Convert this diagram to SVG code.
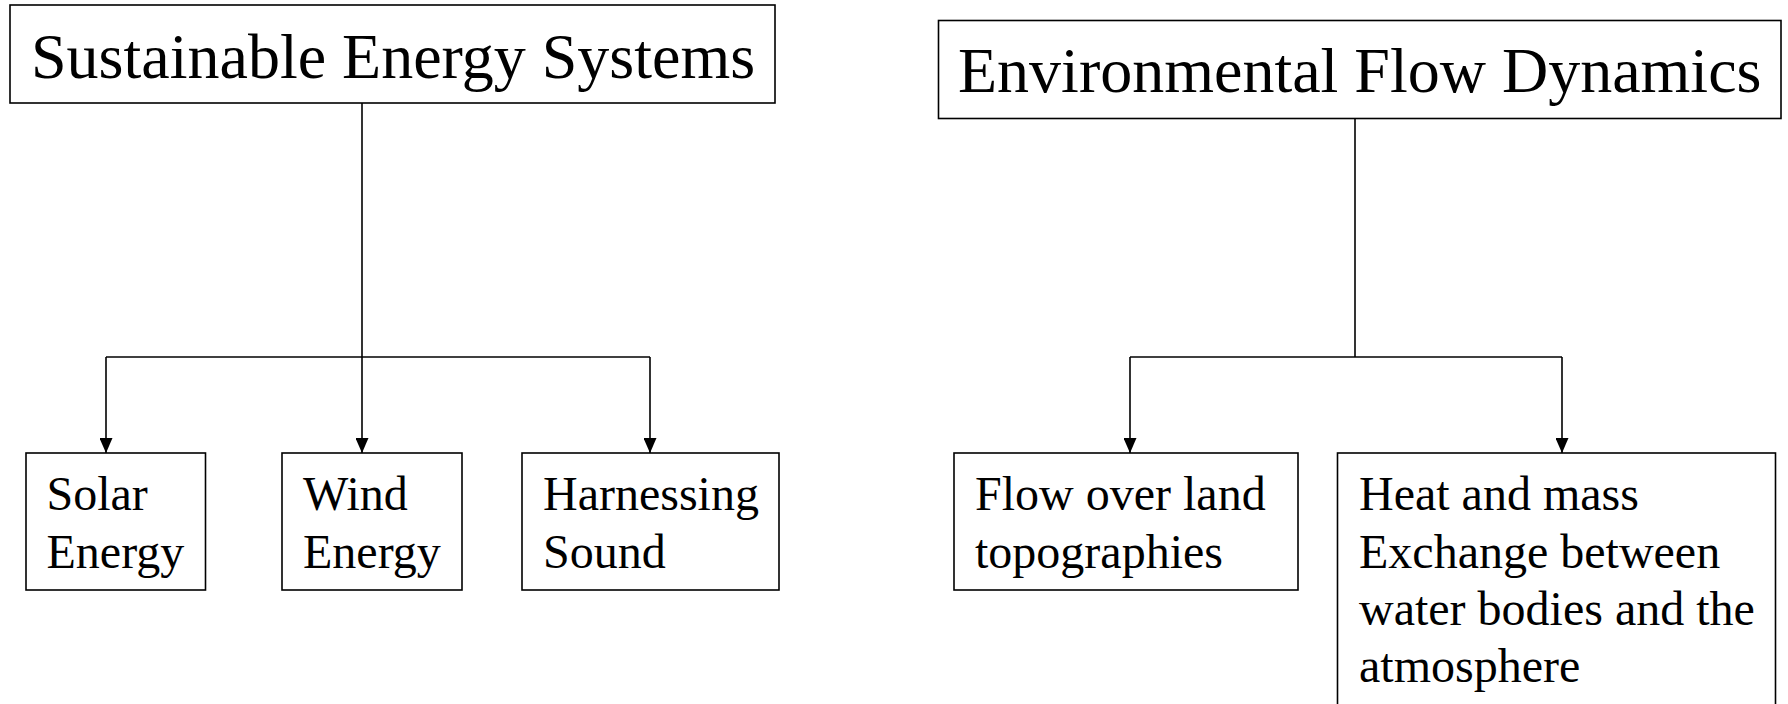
<svg xmlns="http://www.w3.org/2000/svg" width="1788" height="704" viewBox="0 0 1788 704">
<style>
.box{fill:#fff;stroke:#000;stroke-width:1.6}
.title{font-family:"Liberation Serif","Times New Roman",serif;font-size:64px;fill:#000}
.lbl{font-family:"Liberation Serif","Times New Roman",serif;font-size:48px;fill:#000}
.ln{fill:none;stroke:#000;stroke-width:1.6}
.arr{fill:none;stroke:#000;stroke-width:1.6;marker-end:url(#ah)}
</style>
<defs>
<marker id="ah" viewBox="0 0 15 13" markerWidth="15" markerHeight="13" refX="15" refY="6.5" orient="auto" markerUnits="userSpaceOnUse">
<path d="M0,0 L15,6.5 L0,13 z" fill="#000"/>
</marker>
</defs>
<rect width="1788" height="704" fill="#fff"/>
<g id="connectors">
<path class="ln" d="M362,103 V357"/>
<path class="ln" d="M106,357 H650"/>
<path class="arr" d="M106,357 V453"/>
<path class="arr" d="M362,357 V453"/>
<path class="arr" d="M650,357 V453"/>
<path class="ln" d="M1355,118.6 V357"/>
<path class="ln" d="M1130,357 H1562"/>
<path class="arr" d="M1130,357 V453"/>
<path class="arr" d="M1562,357 V453"/>
</g>
<g id="ses">
<rect class="box" x="10" y="5" width="765" height="98"/>
<text class="title" x="31" y="77.5">Sustainable Energy Systems</text>
</g>
<g id="efd">
<rect class="box" x="938.5" y="20.5" width="842.5" height="98"/>
<text class="title" x="958" y="92">Environmental Flow Dynamics</text>
</g>
<g id="solar">
<rect class="box" x="26" y="453" width="179.5" height="137"/>
<text class="lbl" x="46.5" y="510">Solar</text>
<text class="lbl" x="46.5" y="567.5">Energy</text>
</g>
<g id="wind">
<rect class="box" x="282" y="453" width="180" height="137"/>
<text class="lbl" x="303" y="510">Wind</text>
<text class="lbl" x="303" y="567.5">Energy</text>
</g>
<g id="sound">
<rect class="box" x="522" y="453" width="257" height="137"/>
<text class="lbl" x="543" y="510">Harnessing</text>
<text class="lbl" x="543" y="567.5">Sound</text>
</g>
<g id="flow">
<rect class="box" x="954" y="453" width="344" height="137"/>
<text class="lbl" x="975" y="510">Flow over land</text>
<text class="lbl" x="975" y="567.5">topographies</text>
</g>
<g id="heat">
<rect class="box" x="1337.5" y="453" width="438" height="260"/>
<text class="lbl" x="1359" y="510">Heat and mass</text>
<text class="lbl" x="1359" y="567.5">Exchange between</text>
<text class="lbl" x="1359" y="625">water bodies and the</text>
<text class="lbl" x="1359" y="682">atmosphere</text>
</g>
</svg>
